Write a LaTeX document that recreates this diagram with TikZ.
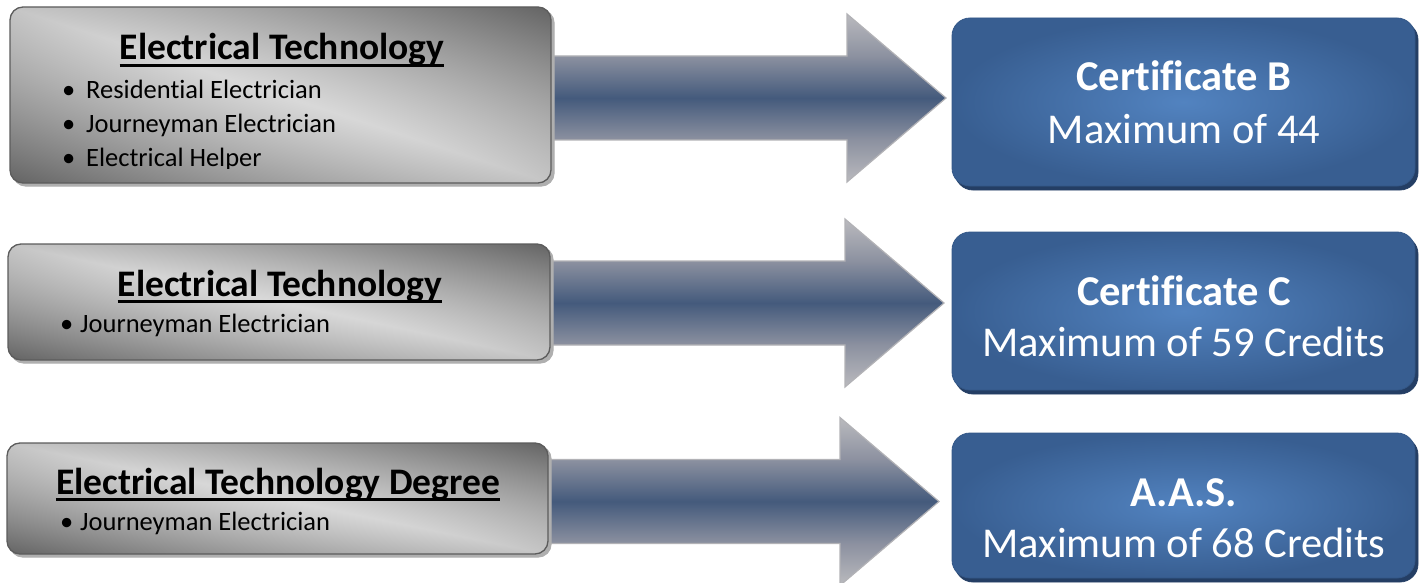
\documentclass[tikz,border=0pt]{standalone}
\usepackage{fontspec}
\setmainfont{Carlito}[Ligatures={NoCommon}]
\usetikzlibrary{calc,backgrounds}
\definecolor{lborder}{RGB}{92,92,92}
\definecolor{lshadow}{RGB}{175,175,175}
\definecolor{binner}{RGB}{82,131,192}
\definecolor{bouter}{RGB}{56,94,145}
\definecolor{bline}{RGB}{52,88,136}
\definecolor{bshadow}{RGB}{36,62,100}
\definecolor{aedge}{RGB}{186,186,190}
\definecolor{amid}{RGB}{140,145,160}
\definecolor{acore}{RGB}{68,90,124}
\definecolor{aline}{RGB}{178,178,182}
\pgfdeclareverticalshading{arrowshade}{100bp}{color(0bp)=(aedge); color(25bp)=(aedge); color(37.5bp)=(amid); color(50bp)=(acore); color(62.5bp)=(amid); color(75bp)=(aedge); color(100bp)=(aedge)}
\pgfdeclarefunctionalshading{leftshade}{\pgfpointorigin}{\pgfpoint{100bp}{100bp}}{}{
  50 sub 25 div exch 50 sub 25 div
  2 copy add 2 div abs 0.38 mul
  3 1 roll
  dup mul exch dup mul add 0.04 mul
  add 0.85 exch sub
  dup 0 lt {pop 0} if
  dup dup
}
\newcommand{\bl}[1]{\makebox[#1][l]{\textbullet}}
\newcommand{\blockarrow}[2]{%
  \path[blockarrow] let \p1=(#1), \p2=(#2) in
    (\x1,\y2+42pt) -- (\x2-99pt,\y2+42pt) -- (\x2-99pt,\y2+84pt) -- (\x2,\y2)
    -- (\x2-99pt,\y2-84pt) -- (\x2-99pt,\y2-42pt) -- (\x1,\y2-42pt) -- cycle;}
\tikzset{
  leftbox/.style={draw=lborder, line width=1.3pt, rounded corners=13pt,
    shading=leftshade, shading angle=0,
    inner sep=0pt, outer sep=0pt,
    preaction={fill=lshadow, draw=lshadow, transform canvas={xshift=3pt,yshift=-3pt}}},
  rightbox/.style={draw=bline, line width=0.8pt, rounded corners=18pt,
    inner color=binner, outer color=bouter, inner sep=0pt, outer sep=0pt,
    preaction={fill=bshadow, draw=bshadow, transform canvas={xshift=3pt,yshift=-4pt}}},
  blockarrow/.style={draw=aline, line width=1.2pt, shading=arrowshade},
  ttl/.style={inner sep=0pt, font=\fontsize{37.5}{42}\selectfont\bfseries},
  bul/.style={inner sep=0pt, anchor=base west, font=\fontsize{26.5}{30}\selectfont},
  rt1/.style={inner sep=0pt, anchor=base, text=white, font=\fontsize{42.5}{48}\selectfont\bfseries},
  rt2/.style={inner sep=0pt, anchor=base, text=white, font=\fontsize{42.5}{48}\selectfont},
  uline/.style={line width=2.8pt}
}
\begin{document}
\begin{tikzpicture}[x=1pt,y=-1pt]
\useasboundingbox (0,0) rectangle (1421,583);
% left boxes
\node[leftbox, minimum width=541pt, minimum height=176pt] (L1) at (280.5,95) {};
\node[leftbox, minimum width=542pt, minimum height=116pt] (L2) at (279,302) {};
\node[leftbox, minimum width=541pt, minimum height=111pt] (L3) at (277.5,498.5) {};
% right boxes
\node[rightbox, minimum width=463pt, minimum height=168pt] (R1) at (1183.5,102) {};
\node[rightbox, minimum width=463pt, minimum height=158pt] (R2) at (1183.5,311) {};
\node[rightbox, minimum width=463pt, minimum height=145pt] (R3) at (1183.5,505.5) {};
% arrow tips
\coordinate (tip1) at ($(R1.west)+(-6,-4)$);
\coordinate (tip2) at ($(R2.west)+(-8,-8)$);
\coordinate (tip3) at ($(R3.west)+(-13,-4)$);
\begin{scope}[on background layer]
\blockarrow{L1.east}{tip1}
\blockarrow{L2.east}{tip2}
\blockarrow{L3.east}{tip3}
\end{scope}
% left texts
\node[ttl, anchor=base] (T1) at (282,60) {Electrical Technology};
\draw[uline] ([yshift=-5.5pt]T1.base west) -- ([yshift=-5.5pt]T1.base east);
\begin{scope}
\clip (0,0) rectangle (560,168);
\node[bul] (B11) at (62,98.5) {\bl{24pt}Residential Electrician};
\node[bul] (B12) at (62,132.5) {\bl{24pt}Journeyman Electrician};
\node[bul] (B13) at (62,166) {\bl{24pt}Electrical Helper};
\end{scope}
\node[ttl, anchor=base] (T2) at (280,296) {Electrical Technology};
\draw[uline] ([yshift=-5.5pt]T2.base west) -- ([yshift=-5.5pt]T2.base east);
\node[bul] (B21) at (60,332) {\bl{20pt}Journeyman Electrician};
\node[ttl, anchor=base] (T3) at (278,494) {Electrical Technology Degree};
\draw[uline] ([yshift=-5.5pt]T3.base west) -- ([yshift=-5.5pt]T3.base east);
\node[bul] (B31) at (60,530) {\bl{20pt}Journeyman Electrician};
% right texts
\node[rt1] (C1) at (1184,91) {Certificate B};
\node[rt2] (M1) at (1184,143) {Maximum of 44};
\node[rt1] (C2) at (1184,305) {Certificate C};
\node[rt2] (M2) at (1184,356) {Maximum of 59 Credits};
\node[rt1] (C3) at (1184,506) {A.A.S.};
\node[rt2] (M3) at (1184,557) {Maximum of 68 Credits};
\end{tikzpicture}
\end{document}
